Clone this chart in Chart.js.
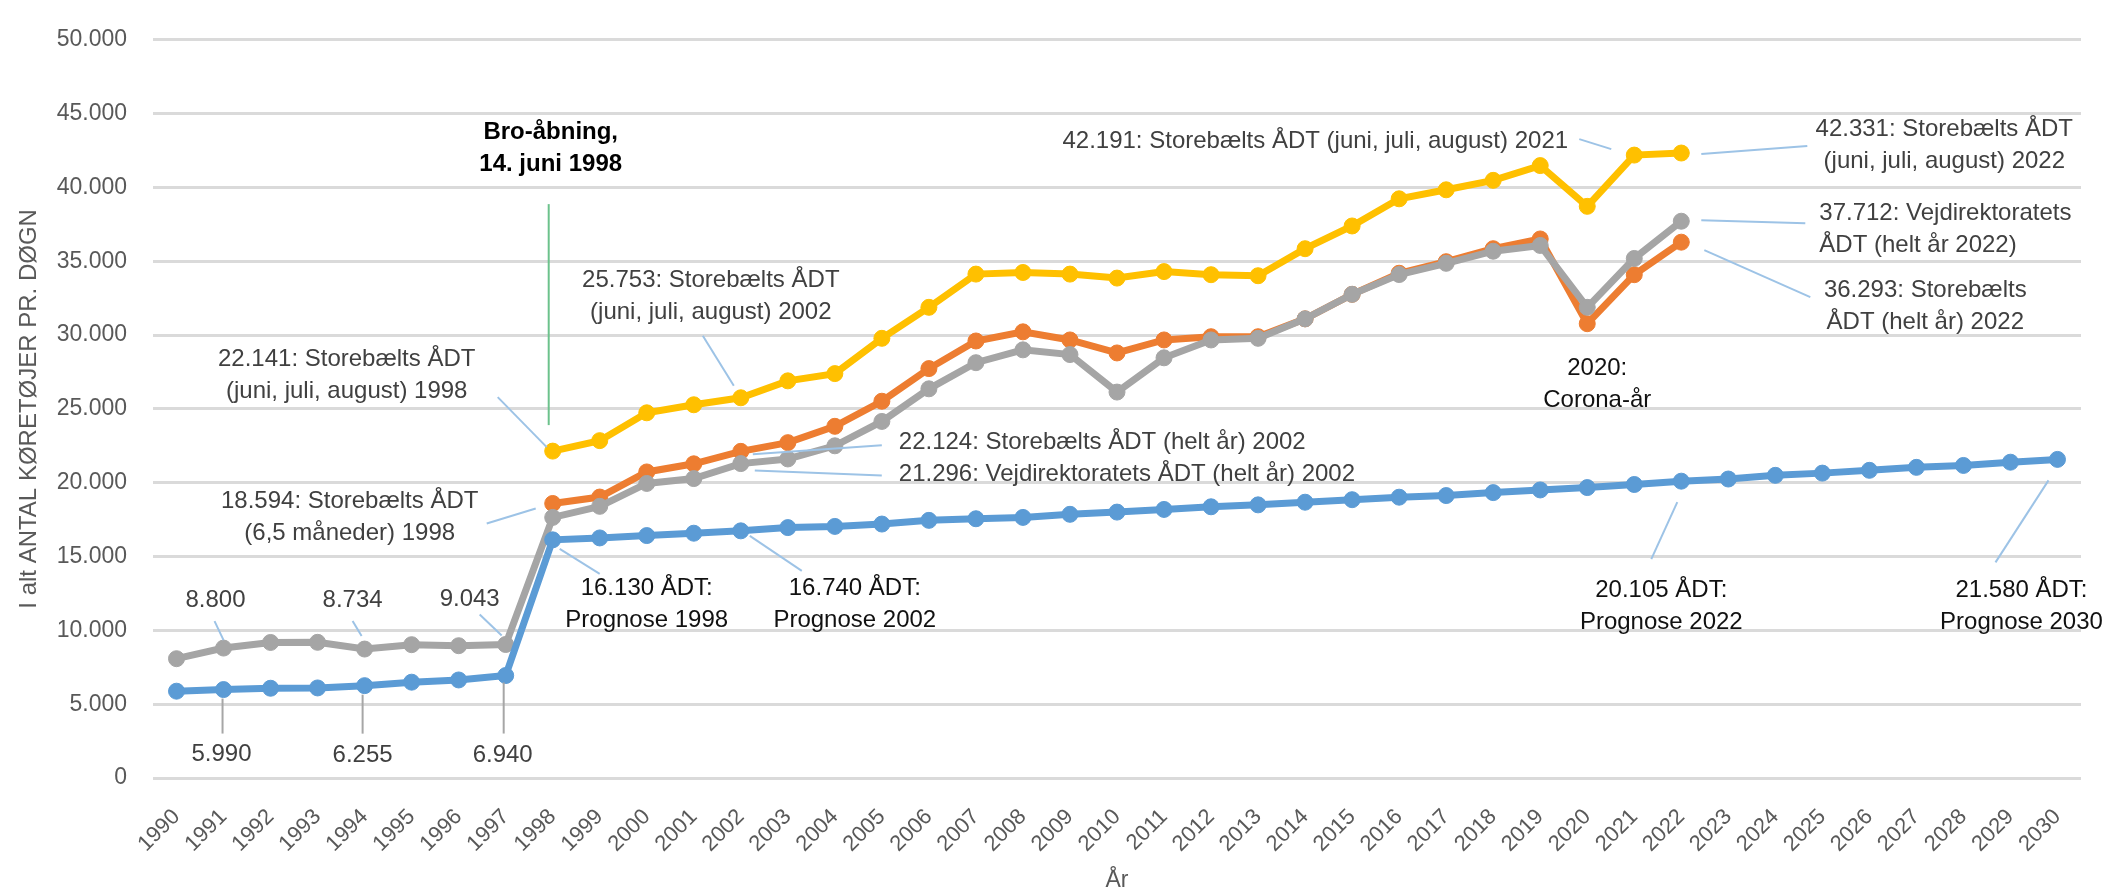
<!DOCTYPE html>
<html>
<head>
<meta charset="utf-8">
<script src="https://cdn.jsdelivr.net/npm/chart.js@4/dist/chart.umd.min.js"></script>
<style>
    html, body { margin: 0; padding: 0; background: #fff; }
    #wrap { width: 2121px; height: 896px; }
</style>
</head>
<body>
<div id="wrap"><canvas id="chart" width="2121" height="896"></canvas></div>
<script>
const years = ['1990','1991','1992','1993','1994','1995','1996','1997','1998','1999',
    '2000','2001','2002','2003','2004','2005','2006','2007','2008','2009',
    '2010','2011','2012','2013','2014','2015','2016','2017','2018','2019',
    '2020','2021','2022','2023','2024','2025','2026','2027','2028','2029','2030'];

// prognose (blaa)
const prognose = [5880, 5990, 6080, 6100, 6255, 6490, 6640, 6940, 16130, 16260,
    16420, 16580, 16740, 16960, 17040, 17200, 17450, 17560, 17650, 17860,
    18010, 18190, 18370, 18500, 18680, 18850, 19020, 19130, 19330, 19510,
    19670, 19880, 20105, 20250, 20500, 20650, 20840, 21040, 21170, 21390, 21580];

// Vejdirektoratets ÅDT, helt år (graa)
const vejdirektoratet = [8080, 8800, 9180, 9190, 8734, 9030, 8960, 9043, 17650, 18400,
    19950, 20280, 21296, 21610, 22500, 24150, 26360, 28130, 29000, 28680,
    26140, 28460, 29670, 29780, 31100, 32760, 34100, 34860, 35680, 36070,
    31880, 35190, 37712, null, null, null, null, null, null, null, null];

// Storebælts ÅDT, helt år (orange)
const storebaeltAar = [null, null, null, null, null, null, null, null, 18594, 19030,
    20730, 21280, 22124, 22715, 23820, 25520, 27730, 29600, 30220, 29670,
    28790, 29670, 29890, 29890, 31100, 32760, 34190, 34970, 35850, 36510,
    30770, 34090, 36293, null, null, null, null, null, null, null, null];

// Storebælts ÅDT, juni-august (gul)
const storebaeltSommer = [null, null, null, null, null, null, null, null, 22141, 22850,
    24735, 25280, 25753, 26900, 27390, 29780, 31880, 34130, 34240, 34130,
    33860, 34300, 34090, 34020, 35850, 37390, 39230, 39840, 40480, 41480,
    38720, 42191, 42331, null, null, null, null, null, null, null, null];

const yTicks = [0, 5000, 10000, 15000, 20000, 25000, 30000, 35000, 40000, 45000, 50000];

const BLUE = '#5b9bd5', GRAY = '#a5a5a5', ORANGE = '#ed7d31', YELLOW = '#ffc000';
const FONT = '"Liberation Sans", Arial, sans-serif';

function fmt(v){
    return String(v).replace(/\B(?=(\d{3})+(?!\d))/g, '.');
}

// tekstbokse, placeret relativt til datapunktet (dx, dy i pixels)
const noter = [
    {serie: storebaeltSommer, aar: '1998', tekst: ['22.141: Storebælts ÅDT', '(juni, juli, august) 1998'], dx: -206, dy: -92, leder: [-55, -54, -6, -4]},
    {serie: storebaeltSommer, aar: '2002', tekst: ['25.753: Storebælts ÅDT', '(juni, juli, august) 2002'], dx: -30, dy: -117, leder: [-38, -62, -7, -12]},
    {serie: storebaeltAar, aar: '2002', tekst: ['22.124: Storebælts ÅDT (helt år) 2002'], dx: 158, dy: -9, align: 'left', leder: [141, -6, 12, 3]},
    {serie: vejdirektoratet, aar: '2002', tekst: ['21.296: Vejdirektoratets ÅDT (helt år) 2002'], dx: 158, dy: 11, align: 'left', leder: [141, 12, 14, 7]},
    {serie: storebaeltAar, aar: '1998', tekst: ['18.594: Storebælts ÅDT', '(6,5 måneder) 1998'], dx: -203, dy: -2, leder: [-66, 20, -17, 5]},
    {serie: vejdirektoratet, aar: '1991', tekst: ['8.800'], dx: -8, dy: -48, leder: [-9, -27, 0, -8]},
    {serie: vejdirektoratet, aar: '1994', tekst: ['8.734'], dx: -12, dy: -49, leder: [-12, -28, -3, -13]},
    {serie: vejdirektoratet, aar: '1997', tekst: ['9.043'], dx: -36, dy: -45, leder: [-26, -30, -4, -9]},
    {serie: prognose, aar: '1991', tekst: ['5.990'], dx: -2, dy: 65, leder: [-1, 44, -1, 9], lederFarve: '#a6a6a6'},
    {serie: prognose, aar: '1994', tekst: ['6.255'], dx: -2, dy: 70, leder: [-2, 48, -2, 9], lederFarve: '#a6a6a6'},
    {serie: prognose, aar: '1997', tekst: ['6.940'], dx: -3, dy: 80, leder: [-2, 58, -2, 7], lederFarve: '#a6a6a6'},
    {serie: prognose, aar: '1998', tekst: ['16.130 ÅDT:', 'Prognose 1998'], dx: 94, dy: 49, leder: [47, 34, 7, 9], farve: '#111'},
    {serie: prognose, aar: '2002', tekst: ['16.740 ÅDT:', 'Prognose 2002'], dx: 114, dy: 58, leder: [61, 40, 9, 5], farve: '#111'},
    {serie: storebaeltSommer, aar: '2021', tekst: ['42.191: Storebælts ÅDT (juni, juli, august) 2021'], dx: -319, dy: -14, leder: [-55, -16, -23, -6]},
    {serie: storebaeltSommer, aar: '2022', tekst: ['42.331: Storebælts ÅDT', '(juni, juli, august) 2022'], dx: 263, dy: -24, leder: [126, -7, 20, 1]},
    {serie: vejdirektoratet, aar: '2022', tekst: ['37.712: Vejdirektoratets', 'ÅDT (helt år 2022)'], dx: 138, dy: -8, align: 'left', leder: [124, 2, 20, -1]},
    {serie: storebaeltAar, aar: '2022', tekst: ['36.293: Storebælts', 'ÅDT (helt år) 2022'], dx: 244, dy: 48, leder: [129, 55, 23, 8]},
    {serie: prognose, aar: '2022', tekst: ['20.105 ÅDT:', 'Prognose 2022'], dx: -20, dy: 109, leder: [-30, 78, -4, 21], farve: '#111'},
    {serie: prognose, aar: '2030', tekst: ['21.580 ÅDT:', 'Prognose 2030'], dx: -36, dy: 131, leder: [-62, 103, -9, 21], farve: '#111'},
    {serie: storebaeltAar, aar: '2020', tekst: ['2020:', 'Corona-år'], dx: 10, dy: 45, farve: '#111'},
    {serie: storebaeltSommer, aar: '1998', tekst: ['Bro-åbning,', '14. juni 1998'], dx: -2, dy: -319, farve: '#000', bold: true, leder: [-4, -247, -4, -26], lederFarve: '#6cc28c'}
];

const noterPlugin = {
    id: 'noter',
    afterDatasetsDraw(chart){
        const ctx = chart.ctx;
        const xs = chart.scales.x, ys = chart.scales.y;
        ctx.save();
        noter.forEach(n =>{
            const i = years.indexOf(n.aar);
            const px = xs.getPixelForValue(i);
            const py = ys.getPixelForValue(n.serie[i]);
            if(n.leder){
                ctx.strokeStyle = n.lederFarve || '#9dc3e6';
                ctx.lineWidth = 2;
                ctx.beginPath();
                ctx.moveTo(px + n.leder[0], py + n.leder[1]);
                ctx.lineTo(px + n.leder[2], py + n.leder[3]);
                ctx.stroke();
            }
            ctx.fillStyle = n.farve || '#404040';
            ctx.font = (n.bold ? 'bold ' : '') + '24px ' + FONT;
            ctx.textAlign = n.align || 'center';
            ctx.textBaseline = 'middle';
            n.tekst.forEach((linje, k) =>{
                ctx.fillText(linje, px + n.dx, py + n.dy + k * 32);
            });
        });
        ctx.restore();
    }
};

function serie(label, data, farve){
    return {
        label: label,
        data: data,
        borderColor: farve,
        backgroundColor: farve,
        pointBackgroundColor: farve,
        pointBorderColor: farve,
        borderWidth: 7,
        pointRadius: 8,
        pointHoverRadius: 8,
        pointBorderWidth: 1,
        tension: 0,
        spanGaps: false
    }
}

const data = {
    labels: years,
    datasets: [
        serie('Prognose', prognose, BLUE),
        serie('Vejdirektoratets ÅDT (helt år)', vejdirektoratet, GRAY),
        serie('Storebælts ÅDT (helt år)', storebaeltAar, ORANGE),
        serie('Storebælts ÅDT (juni, juli, august)', storebaeltSommer, YELLOW)
    ]
}

const options = {
    responsive: false,
    animation: false,
    devicePixelRatio: 1,
    layout: { padding: { top: 23, right: 40, left: 0, bottom: 0 } },
    plugins: {
        legend: { display: false },
        tooltip: { enabled: false }
    },
    scales: {
        x: {
            offset: true,
            grid: { display: false, drawTicks: false },
            border: { display: false },
            ticks: {
                autoSkip: false,
                maxRotation: 45,
                minRotation: 45,
                padding: 26,
                color: '#595959',
                font: { family: FONT, size: 22 }
            },
            title: {
                display: true,
                text: 'År',
                color: '#595959',
                font: { family: FONT, size: 23 },
                padding: { top: 0, bottom: 2 }
            },
            afterFit: scale => { scale.height = 118; }
        },
        y: {
            min: 0,
            max: 50000,
            afterBuildTicks: scale => { scale.ticks = yTicks.map(v => ({value: v})); },
            grid: { color: '#dadada', lineWidth: 3, drawTicks: false },
            border: { display: false },
            ticks: {
                padding: 26,
                color: '#595959',
                font: { family: FONT, size: 23 },
                callback: v => fmt(v)
            },
            title: {
                display: true,
                text: 'I alt ANTAL KØRETØJER PR. DØGN',
                color: '#595959',
                font: { family: FONT, size: 24 },
                padding: { top: 15, bottom: 0 }
            },
            afterFit: scale => { scale.width = 153; }
        }
    }
}

const myChart = new Chart(document.getElementById('chart').getContext('2d'), {
    type: 'line',
    data: data,
    options: options,
    plugins: [noterPlugin]
});
</script>
</body>
</html>
